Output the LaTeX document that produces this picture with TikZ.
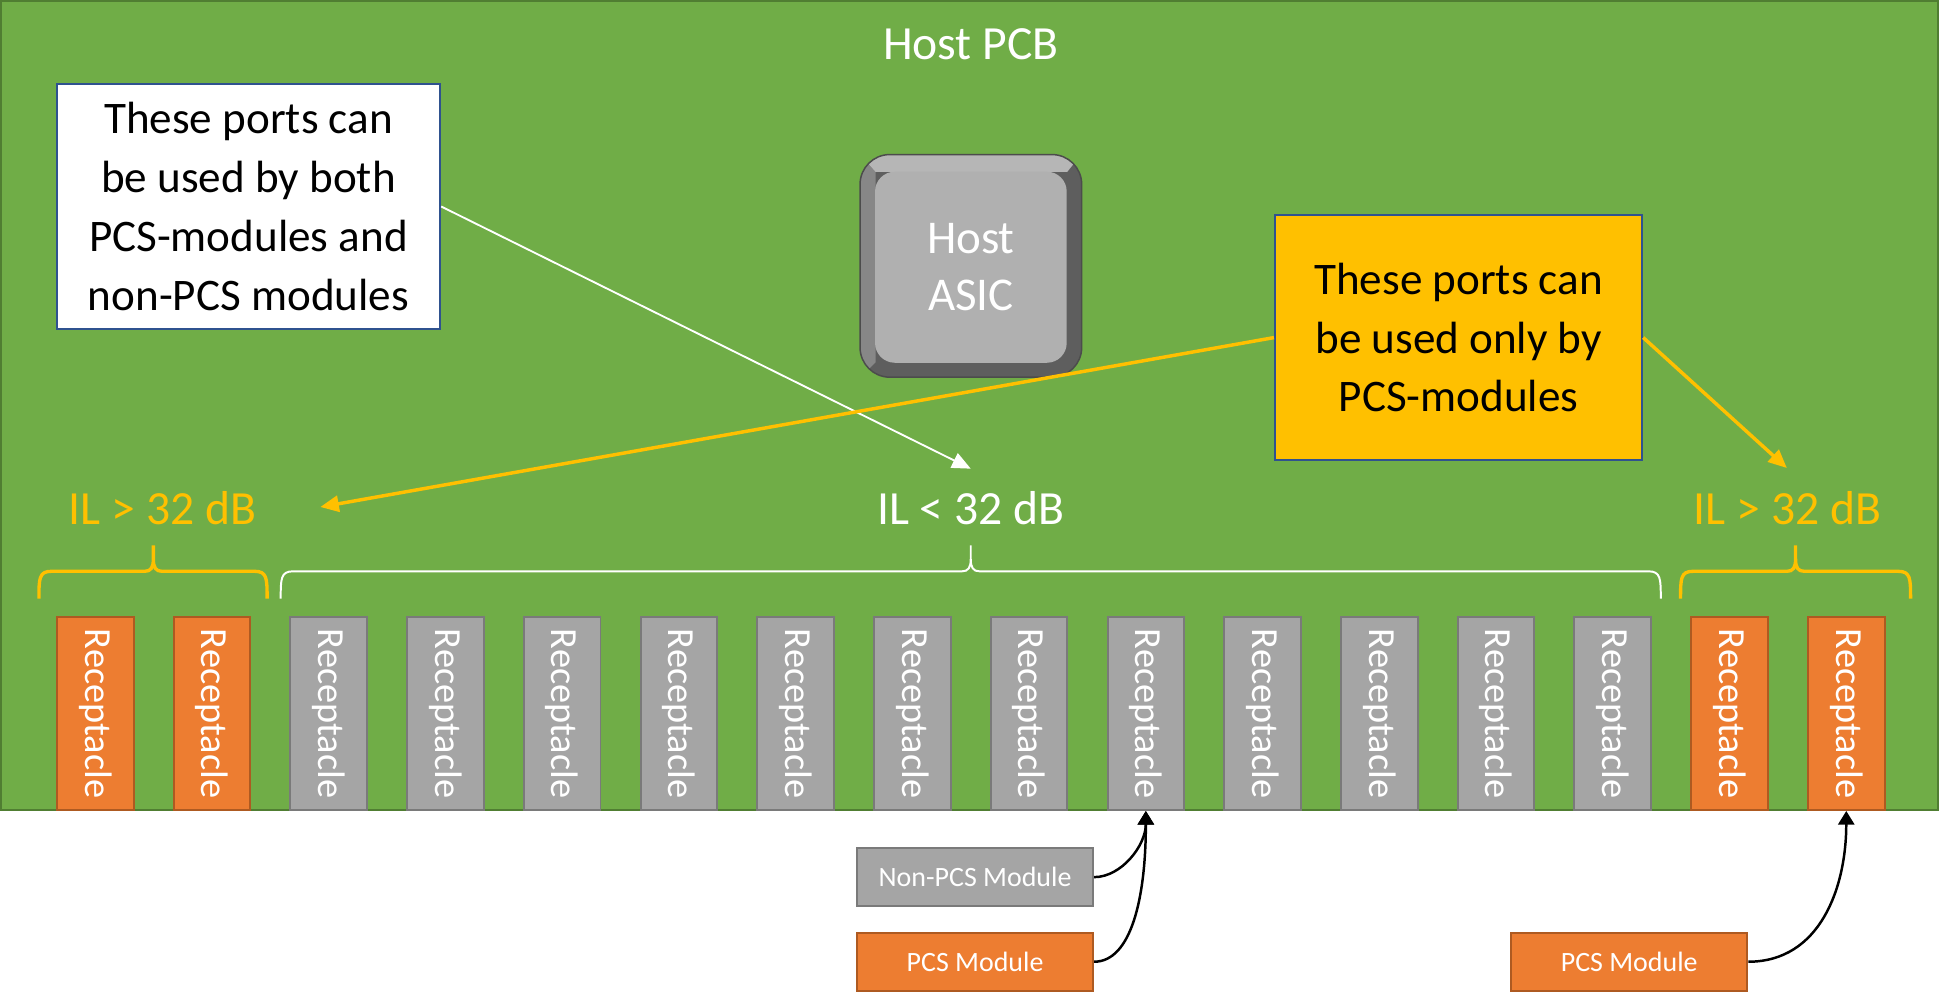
\documentclass[tikz,border=0pt]{standalone}
\usepackage{fontspec}
\setmainfont{Carlito}
\usepackage{tikz}
\usetikzlibrary{arrows.meta}

\definecolor{pcbgreen}{HTML}{70AD47}
\definecolor{pcbedge}{HTML}{507E32}
\definecolor{pcsorange}{HTML}{ED7D31}
\definecolor{pcsedge}{HTML}{AE5A21}
\definecolor{rcpgray}{HTML}{A5A5A5}
\definecolor{rcpedge}{HTML}{7A7A7A}
\definecolor{ilyellow}{HTML}{FFC000}
\definecolor{boxedge}{HTML}{2F528F}
\definecolor{asicface}{HTML}{B0B0B0}
\definecolor{asicdark}{HTML}{5E5E5E}
\definecolor{asicside}{HTML}{878787}
\definecolor{asictop}{HTML}{B6B6B6}
\definecolor{asicedge}{HTML}{4C4C4C}

\tikzset{
  rcp/.style={draw=rcpedge, fill=rcpgray, line width=0.8pt, rotate=-90,
    minimum width=78pt, minimum height=31pt, inner sep=0pt, text=white,
    font=\fontsize{15.5}{18}\selectfont},
  pcsrcp/.style={rcp, draw=pcsedge, fill=pcsorange},
  note/.style={draw=boxedge, line width=0.8pt, align=center, inner sep=0pt,
    minimum width=155pt, minimum height=99pt, font=\fontsize{18.25}{23.8}\selectfont},
  module/.style={draw=rcpedge, fill=rcpgray, line width=0.8pt, inner sep=0pt,
    minimum width=95.5pt, minimum height=23.3pt, text=white,
    font=\fontsize{11.3}{13}\selectfont},
  pcsmodule/.style={module, draw=pcsedge, fill=pcsorange},
  iltext/.style={anchor=base, font=\fontsize{19.25}{23}\selectfont},
  asic/.style={fill=asicface, rounded corners=8pt, inner sep=0pt,
    minimum width=77.5pt, minimum height=77.25pt, text=white, align=center,
    font=\fontsize{19}{22.8}\selectfont},
  callout/.style={-{Triangle[length=7.5pt,width=6.5pt]}},
  plugin/.style={-{Triangle[length=5.5pt,width=6.5pt]}, line width=1pt, black}
}

\begin{document}
\begin{tikzpicture}[x=0.5pt,y=-0.5pt]
\useasboundingbox (0,0) rectangle (1568,802);

% the board
\filldraw[fill=pcbgreen, draw=pcbedge, line width=1pt] (1,1) rectangle (1567,655);
\node[text=white, font=\fontsize{19.25}{23}\selectfont] (pcb) at (785,36) {Host PCB};

% switch chip with bevel
\begin{scope}
\clip[rounded corners=12pt] (695.5,125) rectangle (874.7,305);
\fill[asicdark] (695,124) rectangle (875,306);
\fill[asicside] (695,124) -- (708,139) -- (708,293) -- (695,306) -- cycle;
\fill[asictop] (695,124) -- (875,124) -- (863,139) -- (708,139) -- cycle;
\end{scope}
\draw[asicedge, line width=0.6pt, rounded corners=12pt] (695.5,125) rectangle (874.7,305);
\node[asic] (asic) at (785.1,216.1) {Host\\ASIC};

% the two notes
\node[note, fill=white] (anyport) at (201,167) {These ports can\\be used by both\\PCS-modules and\\non-PCS modules};
\node[note, fill=ilyellow, minimum width=148.5pt] (pcsonly) at (1179.5,273) {These ports can\\be used only by\\PCS-modules};

% insertion loss labels
\node[iltext, text=ilyellow] (illeft) at (131.4,424) {IL > 32 dB};
\node[iltext, text=white] (ilmid) at (785,424) {IL < 32 dB};
\node[iltext, text=ilyellow] (ilright) at (1445.5,424) {IL > 32 dB};

\coordinate (lefttip) at (259,410);
\coordinate (midtip) at (785,379);
\coordinate (righttip) at (1445,378.5);

\draw[callout, white, line width=0.75pt] (anyport.east) -- (midtip);
\draw[callout, ilyellow, line width=1.4pt] (pcsonly.west) -- (lefttip);
\draw[callout, ilyellow, line width=1.4pt] (pcsonly.east) -- (righttip);

% braces over the receptacle groups
\foreach \a/\t/\b/\c/\w in {31.5/124/216/ilyellow/1.35pt, 227/785/1343/white/0.8pt, 1359/1452/1545/ilyellow/1.35pt}
\draw[draw=\c, line width=\w] (\a,484) .. controls (\a,468) and (\a,462) .. (\a+10,462) -- (\t-7,462)
  .. controls (\t-2,462) and (\t,459) .. (\t,452) -- (\t,441)
  (\t,452) .. controls (\t,459) and (\t+2,462) .. (\t+7,462) -- (\b-10,462)
  .. controls (\b,462) and (\b,468) .. (\b,484);

% receptacles, long side along the board edge
\foreach \i in {1,2,15,16}
\node[pcsrcp] (r\i) at ({77+94.4*(\i-1)},577) {Receptacle};
\foreach \i in {3,...,14}
\node[rcp] (r\i) at ({77+94.4*(\i-1)},577) {Receptacle};

% modules below the board
\node[module] (nonpcs) at (788.5,709.3) {Non-PCS Module};
\node[pcsmodule] (pcsa) at (788.5,777.7) {PCS Module};
\node[pcsmodule] (pcsb) at (1317.5,777.7) {PCS Module};

% rotated nodes: east is the bottom edge
\draw[plugin] (nonpcs.east) .. controls +(22,0) and +(0,28) .. (r10.east);
\draw[plugin] (pcsa.east) .. controls +(30,0) and +(0,70) .. (r10.east);
\draw[plugin] (pcsb.east) .. controls +(58,0) and +(0,62) .. (r16.east);

\end{tikzpicture}
\end{document}
